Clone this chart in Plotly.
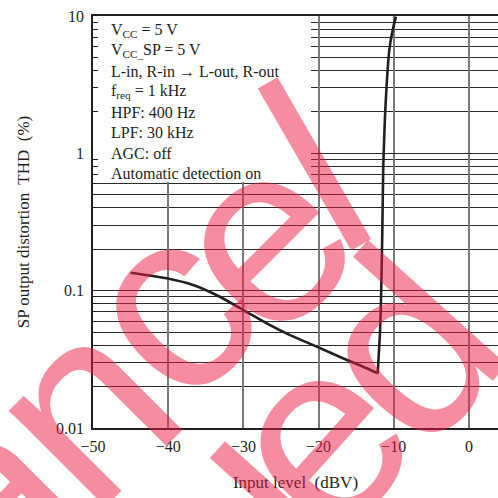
import plotly.graph_objects as go

# ---- data ----
input_level_dbv = [-45.0, -40.2, -36.7, -33.6, -30.0, -26.9, -23.8, -20.25, -16.7, -14.06,
                   -12.14, -11.84, -11.70, -11.53, -11.40, -11.17, -10.94, -10.60, -10.15, -9.71]
thd_percent = [0.135, 0.123, 0.110, 0.093, 0.0723, 0.0578, 0.0475, 0.0391, 0.0321, 0.0279,
               0.0250, 0.049, 0.0855, 0.263, 0.80, 1.85, 3.24, 5.65, 7.9, 9.9]
MIN_IDX = 10  # index of the distortion minimum (sharp corner)

x_tick_vals = [-50, -40, -30, -20, -10, 0]
y_tick_vals = [0.01, 0.1, 1, 10]
y_tick_text = ["0.01", "0.1", "1", "10"]
y_minor_vals = [m * d for d in (0.01, 0.1, 1) for m in range(2, 10)]

cond_lines = [
    "V<sub>CC</sub> = 5 V",
    "V<sub>CC_</sub>SP = 5 V",
    "L-in, R-in \u2192 L-out, R-out",
    "f<sub>req</sub> = 1 kHz",
    "HPF: 400 Hz",
    "LPF: 30 kHz",
    "AGC: off",
    "Automatic detection on",
]

x_title = "Input level\u00a0 (dBV)"
y_title = "SP output distortion\u00a0 THD\u00a0 (%)"

W, H = 498, 498
ML, MR, MT, MB = 93, 0, 16, 70
PW, PH = W - ML - MR, H - MT - MB
PX_PER_DB = 7.52
X_MIN, X_MAX = -50, -50 + PW / PX_PER_DB
Y_MIN, Y_MAX = 0.01, 10


def px(xp, yp):
    return (xp - ML) / PW, (H - MB - yp) / PH


INK = "#231f20"
SERIF = "Liberation Serif, Times New Roman, serif"

fig = go.Figure()

# white condition box (hides the grid behind the text block)
box_right = X_MIN + (311 - ML) / PX_PER_DB
box_bottom = 0.622
fig.add_trace(go.Scatter(
    x=[X_MIN, box_right, box_right, X_MIN, X_MIN],
    y=[box_bottom, box_bottom, Y_MAX, Y_MAX, box_bottom],
    mode="lines", fill="toself", fillcolor="white", line=dict(width=0),
    showlegend=False, hoverinfo="skip"))

for a, b in ((0, MIN_IDX + 1), (MIN_IDX, len(input_level_dbv))):
    fig.add_trace(go.Scatter(
        x=input_level_dbv[a:b], y=thd_percent[a:b], mode="lines",
        line=dict(color=INK, width=2.6, shape="spline", smoothing=0.6),
        showlegend=False, hoverinfo="skip"))

annotations = []
for i, t in enumerate(cond_lines):
    xp, yp = px(109, 30.5 + 20.43 * i)
    annotations.append(dict(text=t, x=xp, y=yp, xref="paper", yref="paper",
                            xanchor="left", yanchor="middle", showarrow=False,
                            font=dict(family=SERIF, size=16, color=INK)))

# watermark letters: (letter, px x, px y, angle)
wm = [
    ("a", -14, 498, -45), ("n", 80, 405, -45), ("c", 165, 305, -45),
    ("e", 258, 236, -45), ("l", 316, 168, -30),
    ("l", 289, 515, -48), ("e", 314, 435, -48), ("d", 404, 345, -48),
]
for ch, x0, y0, ang in wm:
    xp, yp = px(x0, y0)
    annotations.append(dict(text=ch, x=xp, y=yp, xref="paper", yref="paper",
                            xanchor="center", yanchor="middle", showarrow=False,
                            textangle=ang,
                            font=dict(family="Liberation Sans, Arial, sans-serif",
                                      size=258, color="rgba(235,25,65,0.5)")))

fig.update_layout(
    width=W, height=H, margin=dict(l=ML, r=MR, t=MT, b=MB),
    paper_bgcolor="white", plot_bgcolor="white",
    font=dict(family=SERIF, size=16, color=INK),
    annotations=annotations,
)

fig.update_xaxes(
    range=[X_MIN, X_MAX], tickvals=x_tick_vals,
    showgrid=True, gridcolor="#7a7a7a", gridwidth=1.5, zeroline=False,
    showline=True, linecolor=INK, linewidth=1.5, mirror=True,
    ticks="", ticklabelstandoff=3,
    tickfont=dict(family=SERIF, size=16, color=INK),
    title=dict(text=x_title, font=dict(family=SERIF, size=17, color=INK), standoff=22),
)
fig.update_yaxes(
    type="log", range=[-2, 1], tickvals=y_tick_vals, ticktext=y_tick_text,
    showgrid=True, gridcolor="#2a2a2a", gridwidth=1, zeroline=False,
    showline=True, linecolor=INK, linewidth=1.5, mirror=False,
    ticks="", ticklabelstandoff=4,
    tickfont=dict(family=SERIF, size=16, color=INK),
    minor=dict(tickvals=y_minor_vals, showgrid=True, gridcolor="#2a2a2a",
               gridwidth=1, ticks="inside", ticklen=5, tickcolor=INK),
    title=dict(text=y_title, font=dict(family=SERIF, size=17, color=INK), standoff=22),
)

fig.write_html("out.html")
